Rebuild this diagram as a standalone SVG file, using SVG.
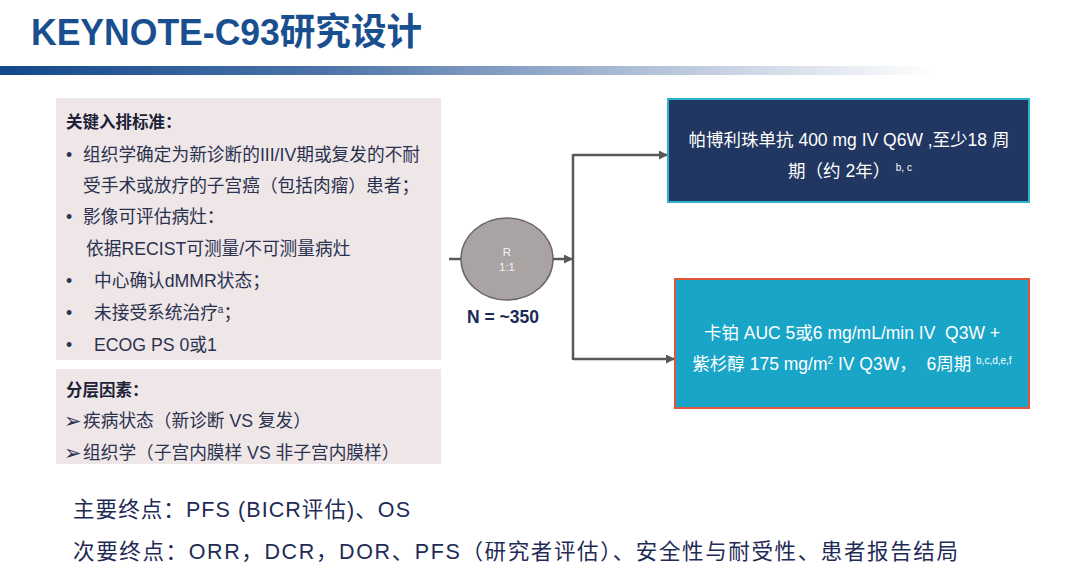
<svg xmlns="http://www.w3.org/2000/svg" width="1080" height="575" viewBox="0 0 1080 575">
  <style>
    text { font-family: "Liberation Sans", "Noto Sans CJK SC", sans-serif; }
    .title { font-size: 37px; font-weight: bold; fill: #1a4f8f; }
    .panel { fill: #efe6e7; }
    .head { font-size: 16.5px; font-weight: bold; fill: #1c2238; }
    .body { font-size: 17.7px; fill: #2a3250; }
    .tri { font-family: "DejaVu Sans", sans-serif; font-size: 21px; }
    .arm { font-size: 17.5px; fill: #ffffff; }
    .sup { font-size: 10px; }
    .rtext { font-size: 11.5px; fill: #f2f2f2; }
    .n { font-size: 17.5px; font-weight: bold; fill: #1b2a55; }
    .end { font-size: 21.5px; fill: #1e2b55; }
    .conn { fill: none; stroke: #585858; stroke-width: 2.5; }
  </style>
  <defs>
    <linearGradient id="bar" x1="0" y1="0" x2="1" y2="0">
      <stop offset="0" stop-color="#11488a"/>
      <stop offset="0.35" stop-color="#4d74a9"/>
      <stop offset="0.7" stop-color="#b4c3d9"/>
      <stop offset="1" stop-color="#ffffff"/>
    </linearGradient>
    <marker id="arr" markerWidth="9" markerHeight="9" refX="8" refY="4.5" orient="auto" markerUnits="userSpaceOnUse">
      <path d="M0,0 L9,4.5 L0,9 Z" fill="#585858"/>
    </marker>
  </defs>

  <rect width="1080" height="575" fill="#ffffff"/>

  <g id="header">
    <text class="title" x="31" y="45" textLength="391" lengthAdjust="spacingAndGlyphs">KEYNOTE-C93研究设计</text>
    <rect x="0" y="66" width="935" height="9" fill="url(#bar)"/>
  </g>

  <g id="criteria">
    <rect class="panel" x="56" y="98" width="385" height="262"/>
    <text class="head" x="66" y="128">关键入排标准：</text>
    <text class="body" x="66" y="161">•</text>
    <text class="body" x="83" y="161">组织学确定为新诊断的III/IV期或复发的不耐</text>
    <text class="body" x="83" y="192">受手术或放疗的子宫癌（包括肉瘤）患者；</text>
    <text class="body" x="66" y="223">•</text>
    <text class="body" x="83" y="223">影像可评估病灶：</text>
    <text class="body" x="86" y="255">依据RECIST可测量/不可测量病灶</text>
    <text class="body" x="66" y="287">•</text>
    <text class="body" x="94" y="287">中心确认dMMR状态；</text>
    <text class="body" x="66" y="319">•</text>
    <text class="body" x="94" y="319">未接受系统治疗<tspan class="sup" dy="-6">a</tspan><tspan dy="6">；</tspan></text>
    <text class="body" x="66" y="351">•</text>
    <text class="body" x="94" y="351">ECOG PS 0或1</text>
  </g>

  <g id="strata">
    <rect class="panel" x="56" y="369" width="385" height="95"/>
    <text class="head" x="66" y="396">分层因素：</text>
    <text class="body tri" x="64" y="428">➢</text>
    <text class="body" x="83" y="427">疾病状态（新诊断 VS 复发）</text>
    <text class="body tri" x="64" y="460">➢</text>
    <text class="body" x="83" y="459">组织学（子宫内膜样 VS 非子宫内膜样）</text>
  </g>

  <g id="randomization">
    <ellipse cx="507" cy="259" rx="46" ry="41" fill="#a9a3a3" stroke="#6b6666" stroke-width="1.5"/>
    <text class="rtext" x="507" y="256" text-anchor="middle">R</text>
    <text class="rtext" x="507" y="271" text-anchor="middle">1:1</text>
    <text class="n" x="503" y="323" text-anchor="middle">N = ~350</text>
  </g>

  <g id="connectors">
    <line class="conn" x1="449" y1="259" x2="461" y2="259"/>
    <line class="conn" x1="553" y1="259" x2="572" y2="259" marker-end="url(#arr)"/>
    <line class="conn" x1="573" y1="154" x2="573" y2="360"/>
    <line class="conn" x1="573" y1="155" x2="667" y2="155" marker-end="url(#arr)"/>
    <line class="conn" x1="573" y1="359" x2="674" y2="359" marker-end="url(#arr)"/>
  </g>

  <g id="arm-pembro">
    <rect x="668" y="99" width="361" height="103" fill="#213660" stroke="#2bb3cc" stroke-width="2"/>
    <text class="arm" x="849" y="146" text-anchor="middle">帕博利珠单抗 400 mg IV Q6W ,至少18 周</text>
    <text class="arm" x="850" y="177" text-anchor="middle">期（约 2年）<tspan class="sup" dy="-6">&#160; b, c</tspan></text>
  </g>

  <g id="arm-chemo">
    <rect x="675" y="279" width="354" height="129" fill="#19a5c8" stroke="#e0553a" stroke-width="2"/>
    <text class="arm" x="852" y="339" text-anchor="middle">卡铂 AUC 5或6 mg/mL/min IV&#160; Q3W +</text>
    <text class="arm" x="852" y="370" text-anchor="middle">紫杉醇 175 mg/m<tspan class="sup" dy="-6">2</tspan><tspan dy="6"> IV Q3W，&#160; 6周期 </tspan><tspan class="sup" dy="-6">b,c,d,e,f</tspan></text>
  </g>

  <g id="endpoints">
    <text class="end" x="73" y="517" textLength="337" lengthAdjust="spacing">主要终点：PFS (BICR评估)、OS</text>
    <text class="end" x="73" y="559" textLength="885" lengthAdjust="spacing">次要终点：ORR，DCR，DOR、PFS（研究者评估）、安全性与耐受性、患者报告结局</text>
  </g>
</svg>
